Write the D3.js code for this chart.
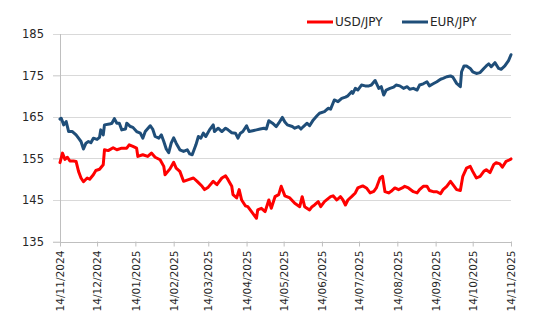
<!DOCTYPE html>
<html><head><meta charset="utf-8">
<script src="https://cdn.jsdelivr.net/npm/d3@7"></script>
<style>body{margin:0;background:#fff;}svg{display:block;}</style>
</head><body>
<svg id="c" width="548" height="321"></svg>
<script>
const startDate = "2024-11-14";
const endDate = "2025-11-14";
const seriesNames = ["USD/JPY", "EUR/JPY"];
const yTicks = [135, 145, 155, 165, 175, 185];
const xTickDates = ["2024-11-14","2024-12-14","2025-01-14","2025-02-14","2025-03-14","2025-04-14","2025-05-14","2025-06-14","2025-07-14","2025-08-14","2025-09-14","2025-10-14","2025-11-14"];

// days since 14/11/2024 and rates
const usdDays = [0,2,4,6,8,11,13,15,17,19,22,24,27,29,32,35,36,39,43,46,50,54,56,59,62,63,67,71,74,77,81,84,85,89,92,94,97,100,104,108,111,115,117,120,124,127,131,134,136,139,140,143,145,147,150,152,155,159,160,163,166,169,171,174,177,179,182,186,190,194,196,198,202,204,206,209,211,214,219,221,224,227,229,231,233,236,239,241,245,248,251,254,256,259,261,263,266,268,271,274,277,279,282,286,289,291,294,297,299,302,305,308,310,313,316,318,321,324,326,329,332,334,337,340,343,345,348,351,353,356,358,361,364,365];
const usdValues = [154.0,156.3,154.8,155.3,154.4,154.4,154.3,151.9,150.3,149.4,150.3,150.0,151.1,152.1,152.4,153.5,157.1,156.9,157.6,157.1,157.5,157.5,158.3,157.9,157.5,155.5,155.9,155.5,156.3,155.3,154.7,153.1,151.1,152.5,154.1,152.7,151.9,149.5,149.9,150.3,149.5,148.3,147.5,148.1,149.5,148.7,150.3,150.8,149.9,148.3,146.3,145.5,147.5,145.0,143.6,143.4,142.2,140.6,142.6,143.0,142.2,145.0,143.0,145.8,146.3,148.3,146.0,145.5,144.2,143.4,145.8,143.4,142.6,143.4,143.8,144.6,143.4,144.6,145.8,146.0,145.0,145.8,145.0,143.8,145.0,145.8,146.7,147.9,148.4,147.9,146.7,147.1,147.9,150.3,150.7,147.0,146.7,147.1,147.9,147.5,147.9,148.3,147.9,147.0,146.7,147.5,148.3,148.3,147.3,147.0,147.0,146.5,147.5,148.3,149.5,148.7,147.5,147.3,150.7,152.7,153.1,151.9,150.3,150.7,151.9,152.3,151.6,153.5,154.0,153.7,152.9,154.3,154.7,154.9];

const eurDays = [0,1,3,5,7,10,13,15,17,19,21,23,25,27,30,32,33,35,36,40,42,44,46,48,50,53,54,57,59,62,65,67,69,73,75,77,80,82,84,86,88,90,92,94,97,100,103,105,107,110,112,114,116,118,121,124,125,128,131,134,136,139,142,144,146,148,151,153,156,159,162,165,167,169,172,175,177,180,182,184,188,190,193,195,197,200,202,205,208,210,214,217,219,222,225,228,231,233,236,237,239,241,244,247,250,252,255,258,260,262,264,267,270,272,275,278,281,283,286,289,291,294,297,299,302,305,308,310,313,316,318,321,324,325,327,329,332,334,337,340,343,345,347,349,352,355,357,360,363,365];
const eurValues = [164.5,164.7,163.1,163.9,161.5,161.5,160.7,159.9,159.1,157.3,158.7,159.1,158.8,159.9,159.6,160.1,161.9,160.7,163.1,163.3,163.5,164.6,163.5,163.5,161.9,162.1,163.5,162.7,162.5,161.5,161.1,159.9,161.5,162.9,162.1,160.3,159.9,160.7,159.1,157.3,156.4,158.7,160.0,158.7,157.1,156.7,157.1,156.1,155.9,158.3,160.3,159.9,161.1,160.3,161.9,163.1,161.5,162.3,161.5,162.3,161.9,161.2,161.1,159.9,161.1,161.5,162.9,161.5,161.7,161.9,162.1,162.3,162.1,164.1,163.5,162.7,163.5,164.9,163.8,163.1,162.7,162.3,162.7,162.1,162.7,163.5,162.9,164.3,165.3,165.9,166.3,167.1,166.9,169.1,168.7,169.5,169.8,170.1,171.1,170.7,171.9,171.5,172.7,172.5,172.5,172.7,173.8,171.9,172.3,170.3,171.5,171.9,172.2,172.7,172.5,171.9,172.3,171.7,171.9,171.5,172.7,173.0,173.5,172.5,173.0,173.5,174.1,174.3,174.7,174.9,174.6,173.1,172.3,175.9,177.3,177.3,176.7,175.9,175.5,175.7,176.7,177.3,177.8,177.1,178.1,176.7,176.5,177.3,178.6,180.0];

const colors = ["#ff0000", "#1f4e79"];
const parse = d3.timeParse("%Y-%m-%d");
const fmt = d3.timeFormat("%d/%m/%Y");
const t0 = parse(startDate);

const svg = d3.select("#c");
const mLeft = 60, mRight = 511, mTop = 34, mBottom = 241.5;
const x = d3.scaleTime().domain([t0, parse(endDate)]).range([mLeft, mRight]);
const y = d3.scaleLinear().domain([135, 185]).range([mBottom, mTop]);

// gridlines
svg.append("g").selectAll("line").data(yTicks.filter(v => v > 135)).join("line")
  .attr("x1", mLeft - 7).attr("x2", mRight).attr("y1", d => y(d)).attr("y2", d => y(d))
  .attr("stroke", "#d9d9d9").attr("stroke-width", 1).attr("shape-rendering", "crispEdges");

// y axis
const ya = svg.append("g").attr("transform", `translate(${mLeft},0)`)
  .call(d3.axisLeft(y).tickValues(yTicks).tickSize(7).tickPadding(9).tickFormat(d3.format("d")));
ya.select(".domain").attr("stroke", "#bfbfbf").attr("shape-rendering", "crispEdges");
ya.selectAll(".tick line").attr("stroke", "#d9d9d9");
ya.selectAll("text").attr("font-family", "DejaVu Sans, Verdana, sans-serif").attr("font-size", "11.5px").attr("fill", "#262626");

// x axis
const xa = svg.append("g").attr("transform", `translate(0,${mBottom})`)
  .call(d3.axisBottom(x).tickValues(xTickDates.map(parse)).tickSize(5).tickSizeOuter(0).tickFormat(fmt));
xa.select(".domain").attr("stroke", "#bfbfbf").attr("shape-rendering", "crispEdges");
xa.selectAll(".tick line").attr("stroke", "#bfbfbf");
xa.selectAll("text").attr("font-family", "DejaVu Sans, Verdana, sans-serif").attr("font-size", "10.6px").attr("fill", "#262626")
  .attr("text-anchor", "end").attr("transform", "rotate(-90)")
  .attr("x", -9).attr("y", 0).attr("dy", "0.35em");

// lines
const mk = (days, vals) => days.map((d, i) => ({ date: d3.timeDay.offset(t0, d), v: vals[i] }));
const data = [mk(usdDays, usdValues), mk(eurDays, eurValues)];
const line = d3.line().x(d => x(d.date)).y(d => y(d.v));
svg.append("g").selectAll("path").data(data).join("path")
  .attr("d", line).attr("fill", "none").attr("stroke", (d, i) => colors[i])
  .attr("stroke-width", 3).attr("stroke-linejoin", "round").attr("stroke-linecap", "round");

// legend
const legX = [307, 402];
const lg = svg.append("g").selectAll("g").data(seriesNames).join("g")
  .attr("transform", (d, i) => `translate(${legX[i]},22)`);
lg.append("line").attr("x1", 0).attr("x2", 26).attr("y1", 0).attr("y2", 0)
  .attr("stroke", (d, i) => colors[i]).attr("stroke-width", 3);
lg.append("text").attr("x", 28).attr("y", 0).attr("dy", "0.35em").text(d => d)
  .attr("font-family", "DejaVu Sans, Verdana, sans-serif").attr("font-size", "12px").attr("fill", "#262626");
</script>
</body></html>
